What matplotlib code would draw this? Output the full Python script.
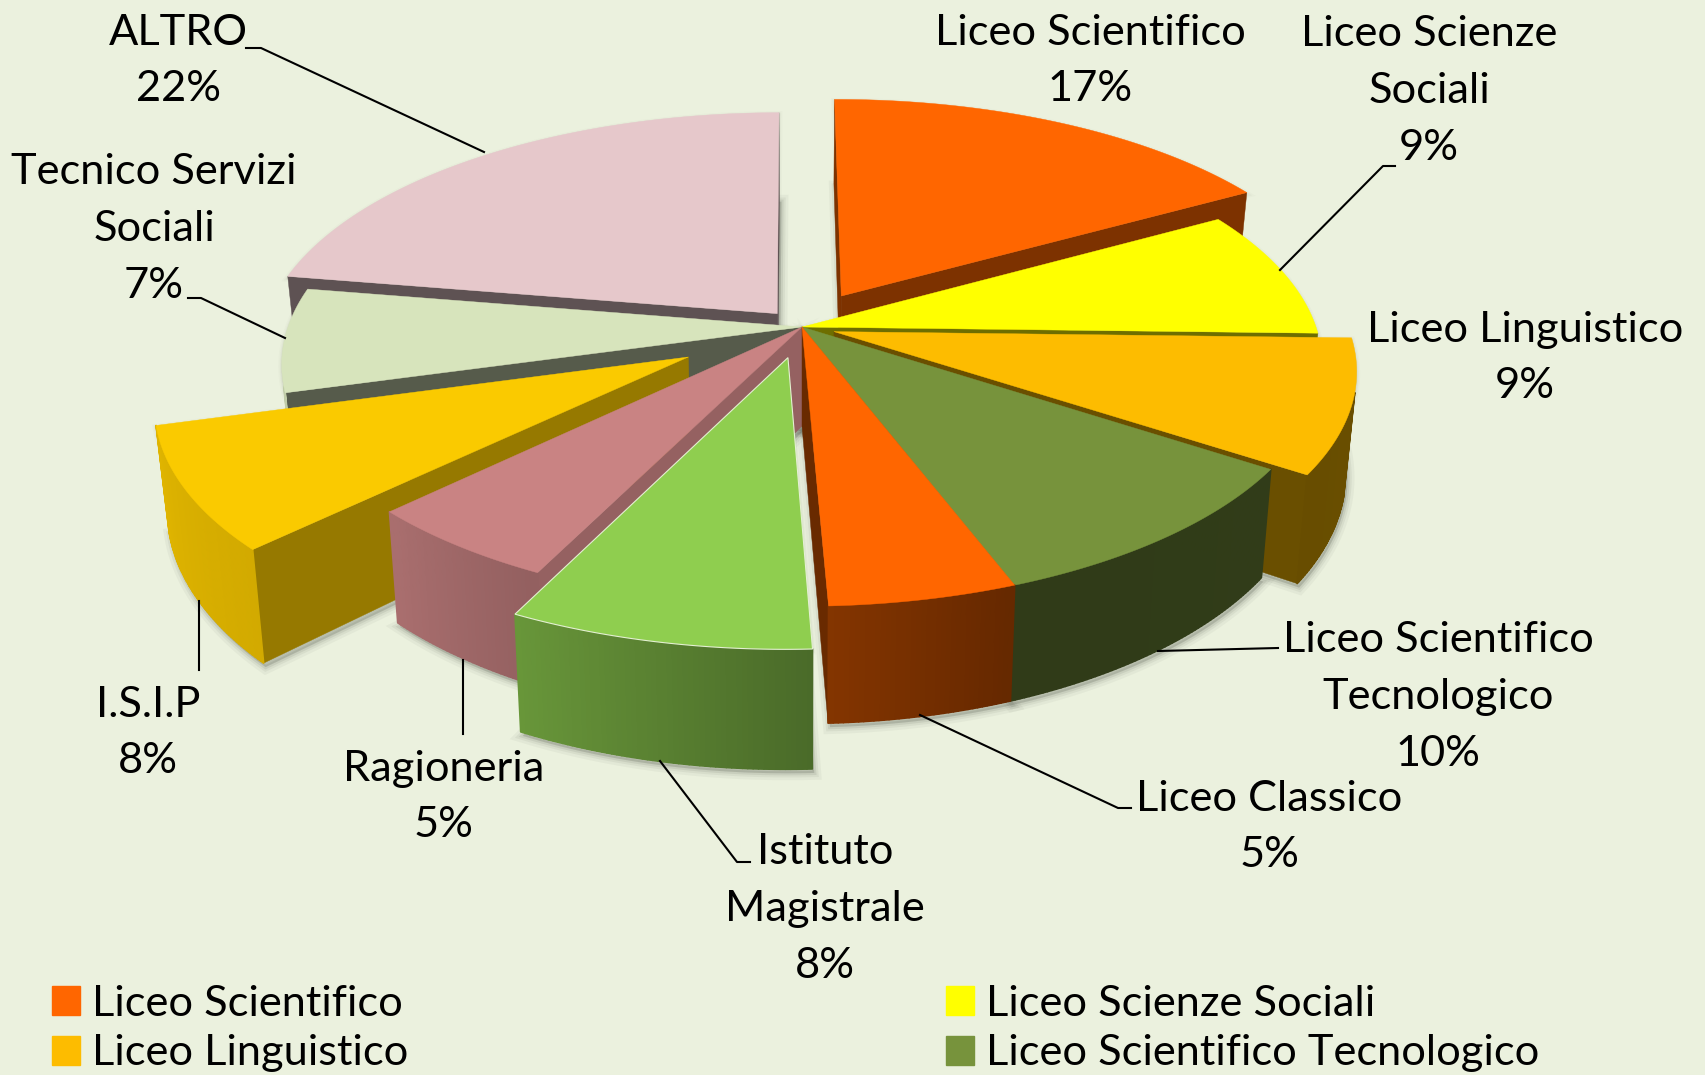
import numpy as np
import matplotlib
matplotlib.use("Agg")
import matplotlib.pyplot as plt
from matplotlib.patches import Patch
from matplotlib.collections import PolyCollection

plt.rcParams['font.family'] = ['Lato', 'DejaVu Sans']

names = ['Liceo Scientifico', 'Liceo Scienze Sociali', 'Liceo Linguistico',
         'Liceo Scientifico Tecnologico', 'Liceo Classico', 'Istituto Magistrale',
         'Ragioneria', 'I.S.I.P', 'Tecnico Servizi Sociali', 'ALTRO']
values = [16.89, 8.58, 8.89, 9.94, 5.06, 8.0, 5.39, 8.0, 6.94, 22.31]
colors = ['#FF6600', '#FFFF00', '#FDBC00', '#77933C', '#FF6600',
          '#8FCE4F', '#C98383', '#FACA00', '#D7E4BC', '#E6C8CB']
explode = [0.155, 0.0, 0.065, 0.0, 0.0, 0.13, 0.0, 0.25, 0.0, 0.075]
wall_shade = [0.49, 0.43, 0.42, 0.40, 0.41, 0.6, 0.74, 0.6, 0.40, 0.41]

# label text, block centre, leader line
labels = [
    ('Liceo Scientifico\n17%', 1090, 61, [(0, 0)]),
    ('Liceo Scienze\nSociali\n9%', 1429, 91, [(1395, 166), (1383, 166), (1280, 270)]),
    ('Liceo Linguistico\n9%', 1525, 358, [(0, 0)]),
    ('Liceo Scientifico\nTecnologico\n10%', 1438, 697, [(1278, 648), (1158, 651)]),
    ('Liceo Classico\n5%', 1269, 827, [(1131, 808), (1118, 808), (920, 715)]),
    ('Istituto\nMagistrale\n8%', 825, 909, [(750, 862), (737, 862), (660, 761)]),
    ('Ragioneria\n5%', 444, 797, [(463, 660), (463, 734)]),
    ('I.S.I.P\n8%', 148, 733, [(199, 601), (199, 670)]),
    ('Tecnico Servizi\nSociali\n7%', 154, 229, [(188, 298), (201, 298), (285, 338)]),
    ('ALTRO\n22%', 178, 61, [(246, 48), (261, 48), (484, 152)]),
]

cx, cy = 802, 327
Rx, Ry = 514, 236
k = 0.155
H = 99
start = -0.2
font_size = 31.2


def project(x, y, low=False):
    s = 1 / (1 - k * y)
    px = Rx * x * s
    py = Ry * y * s
    if low:
        px = px * 0.98
        py = py + H * s
    return np.column_stack([cx + px, cy + py])


def rim_shade(phi):
    return np.interp(phi, [90, 160, 178, 205, 225, 270], [0.42, 0.40, 0.52, 0.72, 0.84, 0.92])


def dark(col, f):
    return tuple(np.array(matplotlib.colors.to_rgb(col)) * f)


fig = plt.figure(figsize=(17.05, 10.75), dpi=100, facecolor='#EBF1DE')
ax = fig.add_axes([0, 0, 1, 1])
ax.set_xlim(0, 1705)
ax.set_ylim(1075, 0)
ax.axis('off')

edges = start + 360 * np.cumsum([0] + values) / sum(values)
mids = (edges[:-1] + edges[1:]) / 2
order = np.argsort(-np.cos(np.radians(mids)))

z = 10
for i in order:
    a0, a1 = edges[i], edges[i + 1]
    m = np.radians(mids[i])
    ox, oy = explode[i] * np.sin(m), -explode[i] * np.cos(m)
    phi = np.linspace(a0, a1, int(a1 - a0) * 2 + 2)
    x = ox + np.sin(np.radians(phi))
    y = oy - np.cos(np.radians(phi))
    top = np.vstack([project(np.array([ox]), np.array([oy])), project(x, y)])
    low = np.vstack([project(np.array([ox]), np.array([oy]), True), project(x, y, True)])

    # soft shadow, goes under everything
    for lw, al in [(10, 0.05), (6, 0.07), (3, 0.1)]:
        ax.fill(low[:, 0] + 2, low[:, 1] + 4, color='#4a4f44', alpha=al, lw=lw, zorder=2)
        ax.fill(top[:, 0], top[:, 1] + 2, color='#4a4f44', alpha=al * 0.5, lw=lw * 0.5, zorder=2)

    # radial walls that face the camera
    for a, nrm in [(a0, a0 - 90), (a1, a1 + 90)]:
        ex, ey = ox + np.sin(np.radians(a)), oy - np.cos(np.radians(a))
        nx, ny = np.sin(np.radians(nrm)), -np.cos(np.radians(nrm))
        if nx * (0 - ox) + ny * (1 / k - oy) > 0:
            t = project(np.array([ox, ex]), np.array([oy, ey]))
            b = project(np.array([ex, ox]), np.array([ey, oy]), True)
            q = np.vstack([t, b])
            c = dark(colors[i], wall_shade[i])
            ax.fill(q[:, 0], q[:, 1], color=c, lw=0.3, zorder=z)
    z += 1

    # outer wall, one strip per step so the shade can change
    strips, shades = [], []
    for j in range(len(phi) - 1):
        if np.cos(np.radians(phi[j])) < -0.25 or np.cos(np.radians(phi[j + 1])) < -0.25:
            t = project(x[j:j + 2], y[j:j + 2])
            b = project(x[j:j + 2][::-1], y[j:j + 2][::-1], True)
            strips.append(np.vstack([t, b]))
            shades.append(dark(colors[i], rim_shade((phi[j] + phi[j + 1]) / 2)))
    if strips:
        ax.add_collection(PolyCollection(strips, facecolors=shades, edgecolors=shades,
                                         linewidths=1.2, zorder=z))
    z += 1

    edge = '#E4F0D2' if i == 5 else colors[i]
    ax.fill(top[:, 0], top[:, 1], facecolor=colors[i], edgecolor=edge, lw=0.8 if i == 5 else 0.3, zorder=z)
    z += 1

for txt, tx, ty, line in labels:
    ax.text(tx, ty, txt, ha='center', va='center', fontsize=font_size, linespacing=1.6, color='black', zorder=200)
    if len(line) > 1:
        ax.plot([p[0] for p in line], [p[1] for p in line], color='black', lw=1.5, zorder=150)

handles = [Patch(color=colors[n]) for n in [0, 2, 1, 3]]
leg_names = [names[n] for n in [0, 2, 1, 3]]
ax.legend(handles, leg_names, ncol=2, loc='upper left', bbox_to_anchor=(52, 985), bbox_transform=ax.transData,
          frameon=False, fontsize=font_size, handlelength=0.65, handleheight=0.65, handletextpad=0.28,
          columnspacing=12.4, labelspacing=0.26, borderpad=0, borderaxespad=0)

plt.savefig('out.png', dpi=100, facecolor=fig.get_facecolor())
